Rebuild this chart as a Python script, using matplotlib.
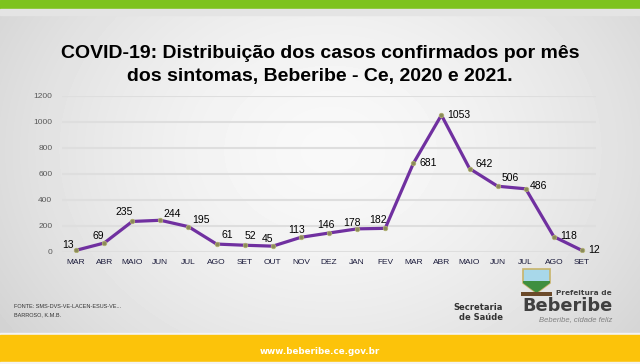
import numpy as np
import matplotlib
matplotlib.use('Agg')
import matplotlib.pyplot as plt
from matplotlib.patches import Rectangle, Polygon

# dados
meses = ['MAR', 'ABR', 'MAIO', 'JUN', 'JUL', 'AGO', 'SET', 'OUT', 'NOV', 'DEZ',
         'JAN', 'FEV', 'MAR', 'ABR', 'MAIO', 'JUN', 'JUL', 'AGO', 'SET']
casos = [13, 69, 235, 244, 195, 61, 52, 45, 113, 146, 178, 182, 681, 1053, 642, 506, 486, 118, 12]
yticks = [0, 200, 400, 600, 800, 1000, 1200]

# deslocamento dos rótulos (pixels)
offs = [(-8, 5), (-6, 7), (-8, 9), (12, 6), (12, 7), (11, 9), (6, 9), (-5, 7), (-4, 7), (-3, 8),
        (-5, 6), (-7, 8), (15, 0), (17, 0), (15, 5), (13, 8), (13, 3), (15, 1), (12, 0)]

plt.rcParams['font.family'] = ['Liberation Sans', 'DejaVu Sans']

fig = plt.figure(figsize=(6.4, 3.64), dpi=100)

# fundo cinza com gradiente
bg = fig.add_axes([0, 0, 1, 1], zorder=-10)
yy, xx = np.mgrid[0:364, 0:640]
d = np.sqrt(((xx - 330) / 400.0) ** 2 + ((yy - 150) / 320.0) ** 2)
img = 0.975 - 0.15 * np.clip(d, 0, 1) ** 1.6
bg.imshow(img, cmap='gray', vmin=0, vmax=1, extent=[0, 640, 364, 0], aspect='auto')
bg.set_xlim(0, 640)
bg.set_ylim(364, 0)
bg.axis('off')

# barras verde e amarela
bg.add_patch(Rectangle((0, 0), 640, 9, color='#7DC31E'))
bg.add_patch(Rectangle((0, 9), 640, 6, color='#e4e4e4'))
bg.add_patch(Rectangle((0, 333), 640, 2, color='#f4f4f4'))
bg.add_patch(Rectangle((0, 335), 640, 27, color='#FCC30A'))
bg.add_patch(Rectangle((0, 362), 640, 2, color='#f4f4f4'))
bg.text(320, 351, 'www.beberibe.ce.gov.br', color='white', fontsize=6.3, fontweight='bold',
        family='DejaVu Sans', ha='center', va='center')

# título
bg.text(320, 53, 'COVID-19: Distribuição dos casos confirmados por mês', fontsize=14,
        fontweight='bold', ha='center', va='center', color='black')
bg.text(320, 76, 'dos sintomas, Beberibe - Ce, 2020 e 2021.', fontsize=14,
        fontweight='bold', ha='center', va='center', color='black')

# rodapé
bg.text(14, 306, 'FONTE: SMS-DVS-VE-LACEN-ESUS-VE...', fontsize=4, color='#333333', va='center')
bg.text(14, 315, 'BARROSO, K.M.B.', fontsize=4, color='#333333', va='center')
bg.text(503, 308, 'Secretaria', fontsize=6, fontweight='bold', color='#333333',
        family='DejaVu Sans', ha='right', va='center')
bg.text(503, 317, 'de Saúde', fontsize=6, fontweight='bold', color='#333333',
        family='DejaVu Sans', ha='right', va='center')
bg.text(612, 293, 'Prefeitura de', fontsize=5.3, fontweight='bold', color='#404040',
        family='DejaVu Sans', ha='right', va='center')
bg.text(613, 306, 'Beberibe', fontsize=12.8, fontweight='bold', color='#404040',
        family='DejaVu Sans', ha='right', va='center')
bg.text(612, 320, 'Beberibe, cidade feliz', fontsize=5.5, style='italic', color='#808080',
        ha='right', va='center')
# brasão simplificado
bg.add_patch(Polygon([(523, 269), (550, 269), (550, 283), (536.5, 293), (523, 283)],
                     facecolor='#a8d8ea', edgecolor='#c8b46a', lw=1.2))
bg.add_patch(Polygon([(523, 281), (550, 281), (550, 283), (536.5, 293), (523, 283)],
                     facecolor='#3f8f3f', edgecolor='none'))
bg.add_patch(Rectangle((521, 292), 31, 4, facecolor='#6b4a2a', edgecolor='none'))

# gráfico
ax = fig.add_axes([62 / 640, 1 - 252 / 364, 534 / 640, 156 / 364])
ax.patch.set_alpha(0)
x = np.arange(len(meses))
ax.plot(x, casos, color='#7030A0', lw=2.3, marker='o', ms=3.2,
        mfc='#8a8a5a', mec='#b0b070', mew=0.6, zorder=3)
for i, v in enumerate(casos):
    ax.annotate(str(v), (i, v), xytext=offs[i], textcoords='offset pixels',
                ha='center', va='center', fontsize=7.5, color='black')

ax.set_xlim(-0.5, len(meses) - 0.5)
ax.set_ylim(0, 1200)
ax.set_yticks(yticks)
ax.set_xticks(x)
ax.set_xticklabels(meses)
ax.grid(axis='y', color='#dedede', lw=1.5)
ax.set_axisbelow(True)
for s in ax.spines.values():
    s.set_visible(False)
ax.tick_params(length=0)
ax.tick_params(axis='y', labelsize=6, labelcolor='#595959', pad=7)
ax.tick_params(axis='x', labelsize=6, labelcolor='#1a1a3a', pad=5)

fig.savefig('out.png', dpi=100)
